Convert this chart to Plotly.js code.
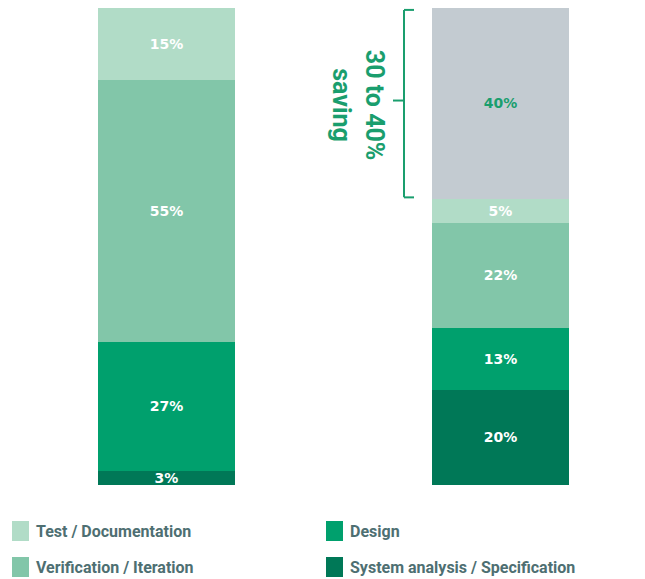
<!DOCTYPE html>
<html><head><meta charset="utf-8">
<script src="https://cdn.plot.ly/plotly-3.0.1.min.js"></script>
<style>html,body{margin:0;padding:0;background:#fff}</style>
</head><body><div id="chart" style="width:645px;height:579px"></div>
<script>
const bars = ["Current", "Improved"];
const sysAnalysis = [3, 20];
const design = [27, 13];
const verification = [55, 22];
const testDoc = [15, 5];
const saving = [null, 40];
const seriesNames = ["System analysis / Specification", "Design", "Verification / Iteration", "Test / Documentation"];
const colors = {sys:"#007857", design:"#00a06d", verif:"#82c6a9", test:"#b1dcc7", gray:"#c3cbd1"};
const labelFont = {family:"'DejaVu Sans', sans-serif", size:14, color:"#ffffff", weight:"bold"};
const xs = [0, 1];
function lbl(arr){return arr.map(v => v==null ? "" : v + "%");}
function tr(vals, name, color, tcolor){
  return {type:"bar", x:xs, y:vals, name:name, marker:{color:color, line:{width:0}},
    text:lbl(vals), textposition:"inside", insidetextanchor:"middle", constraintext:"none",
    textfont:Object.assign({}, labelFont, {color:tcolor||"#ffffff"}), hoverinfo:"skip", showlegend:false, width:0.41};
}
const data = [
  tr(sysAnalysis, seriesNames[0], colors.sys),
  tr(design, seriesNames[1], colors.design),
  tr(verification, seriesNames[2], colors.verif),
  tr(testDoc, seriesNames[3], colors.test),
  tr(saving, "Saving", colors.gray, "#1a9e6e")
];
const legendItems = [
  {name:"Test / Documentation", color:colors.test, x:12, y:531},
  {name:"Design", color:colors.design, x:326, y:531},
  {name:"Verification / Iteration", color:colors.verif, x:12, y:567},
  {name:"System analysis / Specification", color:colors.sys, x:326, y:567}
];
const W=645, H=579, PT=8, PB=485;
const py = p => (PB - p) / (PB - PT);
const shapes = [];
const annotations = [];
legendItems.forEach(it => {
  shapes.push({type:"rect", xref:"paper", yref:"paper", x0:it.x/W, x1:(it.x+17)/W, y0:py(it.y-10), y1:py(it.y+10),
    fillcolor:it.color, line:{width:0}});
  annotations.push({xref:"paper", yref:"paper", x:(it.x+22)/W, y:py(it.y), xanchor:"left", yanchor:"middle",
    text:it.name, showarrow:false, font:{family:"Roboto, sans-serif", size:16, color:"#4e6f72", weight:"bold"}});
});
// bracket
const bc = "#1a9e6e";
const bx = 404/W, bxr = 414/W, bxl = 393/W;
shapes.push({type:"line", xref:"paper", yref:"y", x0:bx, x1:bx, y0:60.3, y1:99.6, line:{color:bc, width:2}});
shapes.push({type:"line", xref:"paper", yref:"y", x0:bx, x1:bxr, y0:99.6, y1:99.6, line:{color:bc, width:2}});
shapes.push({type:"line", xref:"paper", yref:"y", x0:bx, x1:bxr, y0:60.3, y1:60.3, line:{color:bc, width:2}});
shapes.push({type:"line", xref:"paper", yref:"y", x0:bxl, x1:bx, y0:80.6, y1:80.6, line:{color:bc, width:2}});
annotations.push({xref:"paper", yref:"y", x:358/W, y:79.7, text:"30 to 40%<br>saving", showarrow:false, textangle:90,
  font:{family:"Roboto, sans-serif", size:25, color:bc, weight:"bold"}, align:"center"});
const layout = {
  width:W, height:H, barmode:"stack", bargap:0,
  margin:{l:0, r:0, t:PT, b:H-PB, pad:0},
  paper_bgcolor:"#ffffff", plot_bgcolor:"#ffffff",
  xaxis:{range:[-0.4985, 1.4326], visible:false, fixedrange:true},
  yaxis:{range:[0,100], visible:false, fixedrange:true},
  showlegend:false, shapes:shapes, annotations:annotations
};
Plotly.newPlot("chart", data, layout, {displayModeBar:false, staticPlot:true});
</script></body></html>
